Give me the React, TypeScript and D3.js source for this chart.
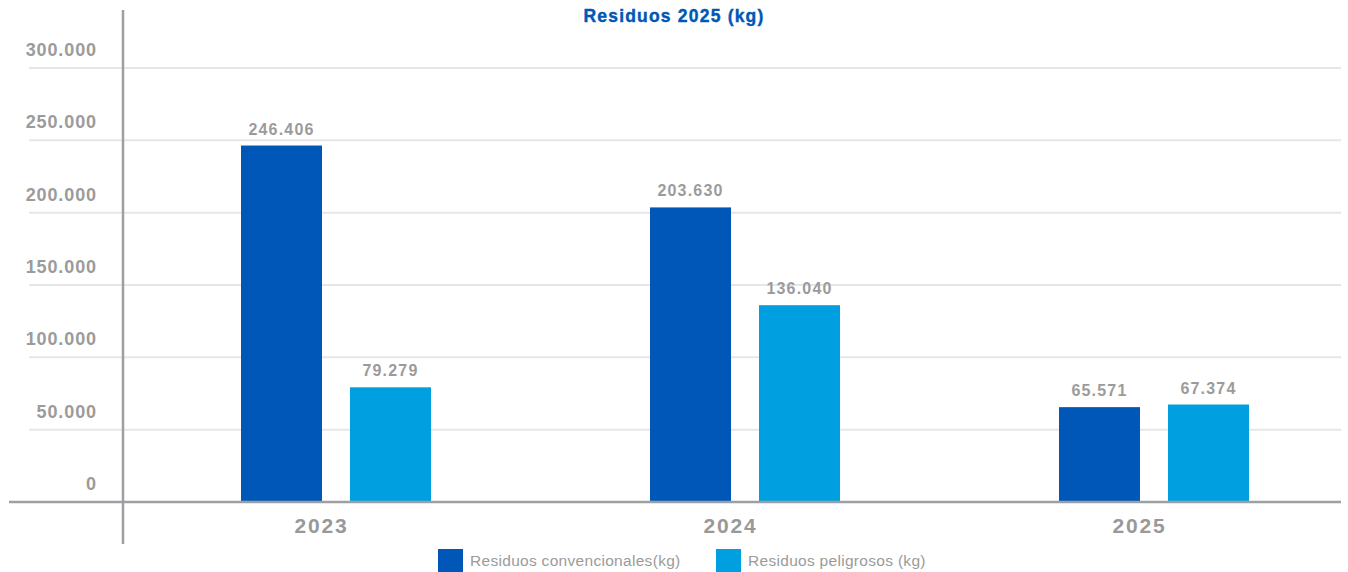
import React from "react";
import * as d3 from "d3";

const years = ["2023", "2024", "2025"];
const seriesNames = ["Residuos convencionales(kg)", "Residuos peligrosos (kg)"];
const convencionales = [246406, 203630, 65571];
const peligrosos = [79279, 136040, 67374];
const yTicks = [0, 50000, 100000, 150000, 200000, 250000, 300000];
const colors = ["#0057b7", "#00a0e0"];

const W = 1348;
const H = 572;
const fmt = (v: number) => d3.format(",")(v).replace(/,/g, ".");

export default function App() {
  const y = d3.scaleLinear().domain([0, 300000]).range([502, 68]);
  const x0 = d3.scaleBand<string>().domain(years).range([117, 1344]);
  const x1 = d3
    .scaleBand<string>()
    .domain(seriesNames)
    .range([124, 314])
    .paddingInner(28 / 109);
  const values = [convencionales, peligrosos];
  const font = "'Liberation Sans', Arial, sans-serif";
  const gray = "#9b9b9b";

  return (
    <svg
      width={W}
      height={H}
      style={{ position: "absolute", left: 0, top: 0, background: "#fff" }}
      fontFamily={font}
    >
      <text
        x={674}
        y={22}
        textAnchor="middle"
        fill="#0057b7"
        stroke="#0057b7"
        strokeWidth={0.4}
        fontSize={17.5}
        fontWeight={900}
        letterSpacing={1.2}
      >
        Residuos 2025 (kg)
      </text>
      {yTicks.map((t) => (
        <g key={t}>
          {t > 0 && (
            <line x1={29} x2={1341} y1={y(t)} y2={y(t)} stroke="#e6e6e6" strokeWidth={2} />
          )}
          <text
            x={97}
            y={y(t) - 12}
            textAnchor="end"
            fill={gray}
            fontSize={18}
            fontWeight={700}
            letterSpacing={0.9}
          >
            {fmt(t)}
          </text>
        </g>
      ))}
      {years.map((yr, i) =>
        seriesNames.map((s, j) => {
          const v = values[j][i];
          const bx = (x0(yr) as number) + (x1(s) as number);
          return (
            <g key={yr + s}>
              <rect
                x={bx}
                y={y(v)}
                width={x1.bandwidth()}
                height={y(0) - y(v)}
                fill={colors[j]}
              />
              <text
                x={bx + x1.bandwidth() / 2}
                y={y(v) - 11}
                textAnchor="middle"
                fill={gray}
                fontSize={16}
                fontWeight={700}
                letterSpacing={1.2}
              >
                {fmt(v)}
              </text>
            </g>
          );
        })
      )}
      <line x1={9} x2={1341} y1={502} y2={502} stroke="#9d9fa2" strokeWidth={2.5} />
      <line x1={123} x2={123} y1={10} y2={544} stroke="#9d9fa2" strokeWidth={2.5} />
      {years.map((yr) => (
        <text
          key={yr}
          x={(x0(yr) as number) + x0.bandwidth() / 2}
          y={533}
          textAnchor="middle"
          fill="#999999"
          fontSize={21}
          fontWeight={700}
          letterSpacing={1.8}
        >
          {yr}
        </text>
      ))}
      {seriesNames.map((s, j) => {
        const lx = [438, 716][j];
        return (
          <g key={s}>
            <rect x={lx} y={549} width={25} height={24} fill={colors[j]} />
            <text x={lx + 32} y={566} fill={gray} fontSize={15.5} letterSpacing={0.3}>
              {s}
            </text>
          </g>
        );
      })}
    </svg>
  );
}
